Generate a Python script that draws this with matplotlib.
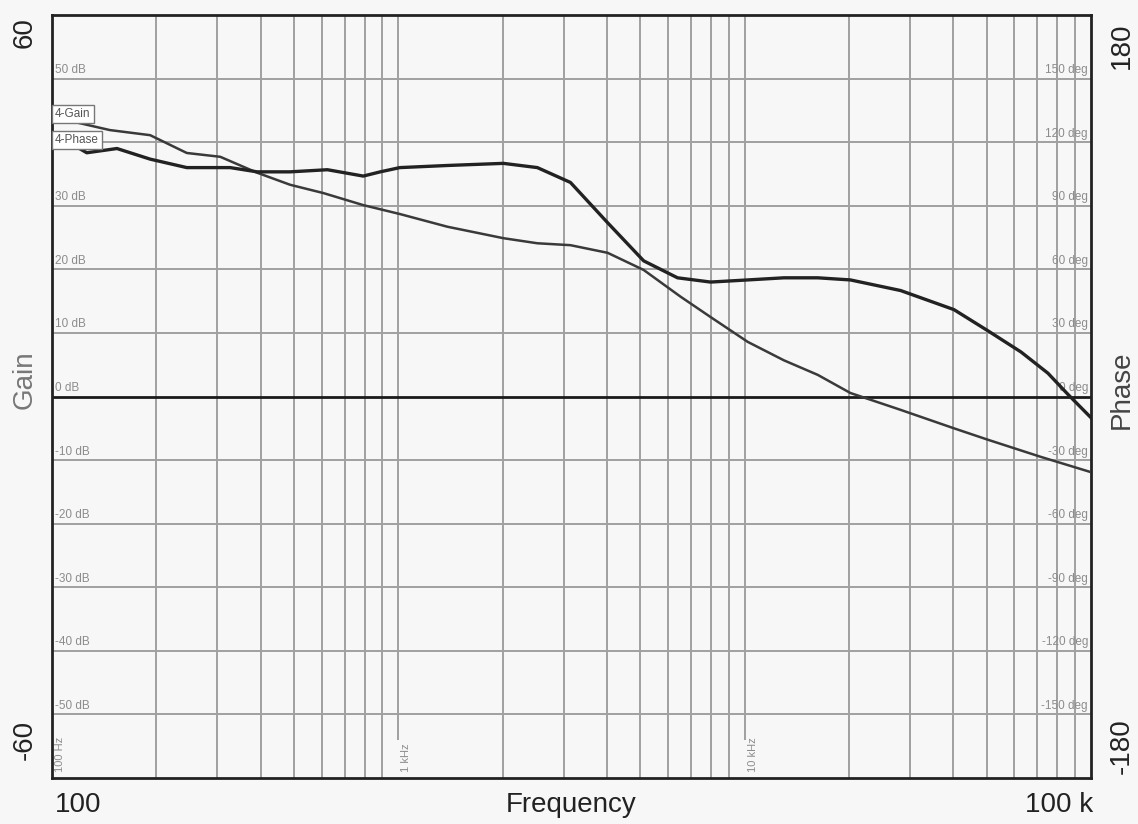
import matplotlib
matplotlib.use("Agg")
import matplotlib.pyplot as plt
import numpy as np

plt.rcParams["font.family"] = ["Liberation Sans", "DejaVu Sans"]

# ── measured loop response ────────────────────────────────────────────────────
gain_freq = [120, 147, 192, 245, 306, 391, 487, 607, 792, 1010, 1386, 2010,
             2520, 3140, 4020, 5110, 6530, 7970, 10200, 12970, 16260, 20200,
             28200, 40200, 50400, 71700, 100000]
gain_db = [43.0, 41.9, 41.1, 38.3, 37.7, 35.2, 33.3, 32.0, 30.1, 28.7, 26.7,
           24.9, 24.1, 23.8, 22.6, 19.9, 15.7, 12.5, 8.6, 5.7, 3.4, 0.55,
           -2.1, -5.0, -6.8, -9.5, -11.9]

phase_freq = [120, 126, 154, 192, 245, 327, 391, 487, 624, 792, 887, 1010,
              1386, 2010, 2520, 3140, 4020, 5110, 6400, 7970, 10200, 12970,
              16260, 20200, 28200, 40200, 50400, 62800, 75100, 85800, 100000]
phase_deg = [117, 115, 117, 112, 108, 108, 106, 106, 107, 104, 106, 108,
             109, 110, 108, 101, 82, 64, 56, 54, 55, 56, 56, 55, 50, 41, 31,
             21, 11, 1, -10]

gain_ticks = [50, 40, 30, 20, 10, 0, -10, -20, -30, -40, -50]
phase_ticks = [150, 120, 90, 60, 30, 0, -30, -60, -90, -120, -150]
minor_freqs = [m * d for d in (100, 1000, 10000) for m in range(2, 10)]
decade_freqs = [1000, 10000]
decade_labels = ["100 Hz", "1 kHz", "10 kHz"]

BG = "#f7f7f7"
GRID = "#a0a0a0"
TXT = "#8c8c8c"

fig = plt.figure(figsize=(11.38, 8.24), dpi=100, facecolor=BG)
ax = fig.add_axes([0.0457, 0.0558, 0.9130, 0.9260])
ax.set_facecolor(BG)
ax.set_xscale("log")
ax.set_xlim(100, 1e5)
ax.set_ylim(-60, 60)

# grid
for g in gain_ticks:
    if g == 0:
        ax.axhline(0, color="#1a1a1a", lw=2.0, zorder=2)
    else:
        ax.axhline(g, color=GRID, lw=1.4, zorder=1)
for f in minor_freqs:
    ax.axvline(f, color=GRID, lw=1.4, zorder=1)
for f in decade_freqs:
    ax.vlines(f, -54, 60, color=GRID, lw=1.4, zorder=1)

# in-plot scale labels (the 40 dB one sits under the trace tags)
for g, p in zip(gain_ticks, phase_ticks):
    if g != 40:
        ax.text(0.003, g + 0.4, f"{g} dB", transform=ax.get_yaxis_transform(),
                fontsize=8.5, color=TXT, ha="left", va="bottom", zorder=3)
    ax.text(0.997, g + 0.4, f"{p} deg", transform=ax.get_yaxis_transform(),
            fontsize=8.5, color=TXT, ha="right", va="bottom", zorder=3)
for f, lab in zip([100] + decade_freqs, decade_labels):
    ax.text(f * 1.02, -59, lab, rotation=90, fontsize=8, color=TXT,
            ha="left", va="bottom", zorder=3)

ax.set_xticks([])
ax.set_yticks([])
ax.minorticks_off()
for s in ax.spines.values():
    s.set_linewidth(2.0)
    s.set_color("#222222")

ax.plot(gain_freq, gain_db, color="#3a3a3a", lw=1.8, zorder=4)

axp = ax.twinx()
axp.set_ylim(-180, 180)
axp.set_yticks([])
axp.plot(phase_freq, phase_deg, color="#222222", lw=2.4, zorder=4)
for s in axp.spines.values():
    s.set_visible(False)

# trace tags
box = dict(boxstyle="square,pad=0.25", facecolor="white", edgecolor="#777777", lw=1.0)
axp.text(0.003, 0.870, "4-Gain", transform=ax.transAxes, fontsize=8.5,
         color="#555555", ha="left", va="center", bbox=box, zorder=6)
axp.text(0.003, 0.836, "4-Phase", transform=ax.transAxes, fontsize=8.5,
         color="#555555", ha="left", va="center", bbox=box, zorder=6)

# outer labels
big = dict(fontsize=20, color="#222222")
fig.text(0.022, 0.961, "60", rotation=90, ha="center", va="center", **big)
fig.text(0.022, 0.102, "-60", rotation=90, ha="center", va="center", **big)
fig.text(0.022, 0.539, "Gain", rotation=90, ha="center", va="center",
         fontsize=20, color="#777777")
fig.text(0.986, 0.945, "180", rotation=90, ha="center", va="center", **big)
fig.text(0.986, 0.095, "-180", rotation=90, ha="center", va="center", **big)
fig.text(0.986, 0.527, "Phase", rotation=90, ha="center", va="center",
         fontsize=20, color="#444444")
fig.text(0.069, 0.023, "100", ha="center", va="center", **big)
fig.text(0.502, 0.023, "Frequency", ha="center", va="center", **big)
fig.text(0.931, 0.023, "100 k", ha="center", va="center", **big)

fig.savefig("out.png", dpi=100, facecolor=BG)
